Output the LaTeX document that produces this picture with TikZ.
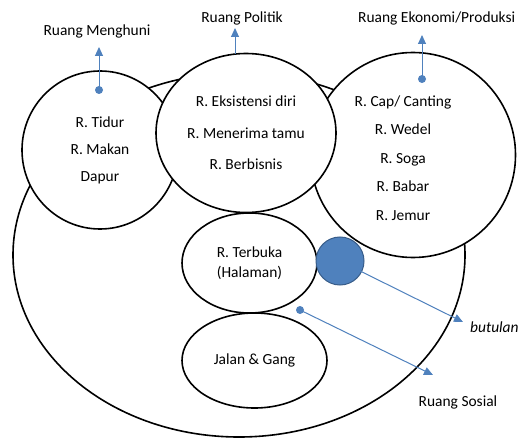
\documentclass[tikz,border=0pt]{standalone}
\usepackage{fontspec}
\setmainfont{Carlito}
\usetikzlibrary{arrows.meta,shapes.geometric}
\definecolor{oblue}{RGB}{79,129,189}
\definecolor{oblueD}{RGB}{56,93,138}
\begin{document}
\begin{tikzpicture}[x=1bp,y=-1bp,
  room/.style={ellipse, draw=black, line width=1.6bp, fill=white, inner sep=0pt, align=center},
  lbl/.style={font=\fontsize{15.5}{18}\selectfont, inner sep=0pt},
  itlbl/.style={font=\fontsize{15.5}{18}\selectfont\itshape, inner sep=0pt},
  bluearrow/.style={draw=oblue, line width=1bp, -{Triangle[length=9bp,width=8bp]}},
  bluedot/.style={circle, fill=oblue, inner sep=0pt, minimum size=8bp}]
\useasboundingbox (0,0) rectangle (518,440);
% outer space
\node[room, minimum width=452bp, minimum height=364bp] (outer) at (239,255) {};
% living space
\node[room, minimum width=156bp, minimum height=158bp, font=\fontsize{15.5}{27}\selectfont] (huni) at (100,150) {R. Tidur\\R. Makan\\Dapur};
% economic space
\node[room, minimum width=205bp, minimum height=205bp] (eko) at (413,155) {};
\node[align=center, inner sep=0pt, font=\fontsize{15.5}{28.7}\selectfont] (ekoText) at (403,158) {R. Cap/ Canting\\R. Wedel\\R. Soga\\R. Babar\\R. Jemur};
% political space
\node[room, minimum width=180bp, minimum height=159bp, font=\fontsize{15.5}{31.5}\selectfont] (pol) at (246,133) {R. Eksistensi diri\\R. Menerima tamu\\R. Berbisnis};
% open space
\node[room, minimum width=135bp, minimum height=100bp, font=\fontsize{15.5}{20}\selectfont] (terbuka) at (249.5,263) {R. Terbuka\\(Halaman)};
% road
\node[room, minimum width=145bp, minimum height=95bp, font=\fontsize{15.5}{18}\selectfont] (jalan) at (254.5,360.5) {Jalan \& Gang};
% back door
\node[circle, fill=oblue, draw=oblueD, line width=1bp, minimum size=48bp, inner sep=0pt] (pintu) at (340,261) {};

% labels
\node[lbl] (lblM) at (97,31) {Ruang Menghuni};
\node[lbl] (lblP) at (242,18) {Ruang Politik};
\node[lbl, anchor=west] (lblE) at (358,18) {Ruang Ekonomi/Produksi};
\node[itlbl, anchor=west] (lblB) at (470,327) {butulan};
\node[lbl] (lblS) at (458,402) {Ruang Sosial};

% dots and arrow ends
\node[bluedot] (dotM) at (99,90) {};
\node[bluedot] (dotE) at (422,79) {};
\node[bluedot] (dotS) at (300,310) {};
\coordinate (baseP) at (235,54);
\coordinate (tipM) at (99,47);
\coordinate (tipP) at (235,28);
\coordinate (tipE) at (422,35);
\coordinate (tipB) at (463,322);
\coordinate (tipS) at (433,375);

\draw[bluearrow] (dotM.center) -- (tipM);
\draw[bluearrow] (baseP) -- (tipP);
\draw[bluearrow] (dotE.center) -- (tipE);
\draw[bluearrow] (pintu.center) -- (tipB);
\draw[bluearrow] (dotS.center) -- (tipS);
\end{tikzpicture}
\end{document}
